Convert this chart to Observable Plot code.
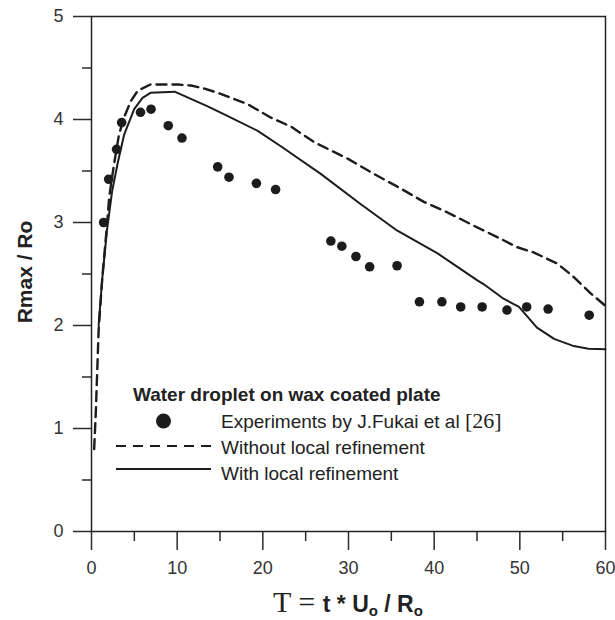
<!DOCTYPE html>
<html>
<head>
<meta charset="utf-8">
<script src="https://cdn.jsdelivr.net/npm/d3@7"></script>
<script src="https://cdn.jsdelivr.net/npm/@observablehq/plot@0.6"></script>
<style>
  html, body { margin: 0; padding: 0; background: #fff; }
  #chart { width: 615px; height: 620px; }
</style>
</head>
<body>
<div id="chart"></div>
<script>
// ---- Data ----
const expT = [1.42, 2.01, 2.93, 3.52, 5.72, 6.95, 8.96, 10.56, 14.73, 16.05, 19.25, 21.49,
              27.94, 29.22, 30.87, 32.47, 35.67, 38.28, 40.9, 43.1, 45.6, 48.5, 50.8, 53.3, 58.1];
const expR = [3.00, 3.42, 3.71, 3.97, 4.07, 4.10, 3.94, 3.82, 3.54, 3.44, 3.38, 3.32,
              2.82, 2.77, 2.67, 2.57, 2.58, 2.23, 2.23, 2.18, 2.18, 2.15, 2.18, 2.16, 2.10];

// Without local refinement (dashed)
const dashT = [0.31, 0.51, 0.83, 1.25, 1.75, 2.07, 2.6, 3.2, 3.8, 4.6, 5.4, 6.9, 10.0, 11.6, 13.2, 14.7,
               16.6, 18.2, 20.9, 23.3, 26.0, 29.9, 33.0, 36.1, 38.8, 41.5, 44.6, 47.8, 49.7, 51.6,
               54.4, 56.3, 58.3, 60];
const dashR = [0.80, 1.17, 1.95, 2.45, 2.92, 3.25, 3.55, 3.85, 4.02, 4.18, 4.28, 4.34, 4.34, 4.33, 4.30, 4.26,
               4.20, 4.15, 4.02, 3.93, 3.78, 3.62, 3.47, 3.33, 3.20, 3.10, 2.97, 2.84, 2.76, 2.71,
               2.60, 2.47, 2.31, 2.19];

// With local refinement (solid)
const solidT = [0.83, 1.25, 1.8, 2.4, 3.04, 3.8, 4.98, 5.96, 6.93, 9.7, 11.6, 13.5, 15.5, 19.4, 22.1,
                26.8, 31.4, 35.7, 40.4, 45.0, 45.8, 48.1, 49.9, 52.0, 54.0, 56.3, 58.0, 60];
const solidR = [2.00, 2.45, 2.92, 3.30, 3.57, 3.85, 4.10, 4.21, 4.26, 4.27, 4.20, 4.13, 4.05, 3.89, 3.74,
                3.47, 3.18, 2.92, 2.70, 2.44, 2.40, 2.26, 2.18, 1.98, 1.87, 1.80, 1.775, 1.77];

const xTicks = [0, 10, 20, 30, 40, 50, 60];
const xMinor = [5, 15, 25, 35, 45, 55];
const yTicks = [0, 1, 2, 3, 4, 5];
const yMinor = [0.5, 1.5, 2.5, 3.5, 4.5];

const legendTitle = "Water droplet on wax coated plate";
const legendExp = "Experiments by J.Fukai et al ";
const legendExpRef = "[26]";
const legendDash = "Without local refinement";
const legendSolid = "With local refinement";

// ---- Build tables ----
const expData = expT.map((t, i) => ({t, r: expR[i]}));
const dashData = dashT.map((t, i) => ({t, r: dashR[i]}));
const solidData = solidT.map((t, i) => ({t, r: solidR[i]}));

const ink = "#1c1c1c";
const sans = "'Liberation Sans', Arial, Helvetica, sans-serif";
const serif = "'Liberation Serif', 'Times New Roman', serif";
const intFmt = d => String(d);

const plot = Plot.plot({
  width: 615,
  height: 620,
  marginLeft: 91,
  marginRight: 10,
  marginTop: 16,
  marginBottom: 89,
  x: {domain: [0, 60], label: null},
  y: {domain: [0, 5], label: null},
  style: {fontFamily: sans, fontSize: "18px", color: "#2a2a2a", background: "#fff", overflow: "visible"},
  marks: [
    Plot.axisX({ticks: xTicks, tickSize: 19, tickPadding: 11, strokeWidth: 1.5, label: null, fill: "#333", tickFormat: intFmt}),
    Plot.axisX({ticks: xMinor, tickSize: 10, tickFormat: () => "", strokeWidth: 1.5, label: null}),
    Plot.axisY({ticks: yTicks, tickSize: 18, tickPadding: 10, strokeWidth: 1.5, label: null, fill: "#333", tickFormat: intFmt}),
    Plot.axisY({ticks: yMinor, tickSize: 9, tickFormat: () => "", strokeWidth: 1.5, label: null}),
    Plot.frame({stroke: "#222", strokeWidth: 1.5}),
    Plot.line(dashData, {x: "t", y: "r", stroke: ink, strokeWidth: 2.4, strokeDasharray: "10,6"}),
    Plot.line(solidData, {x: "t", y: "r", stroke: ink, strokeWidth: 2}),
    Plot.dot(expData, {x: "t", y: "r", r: 4.8, fill: ink, stroke: "none"})
  ]
});

document.getElementById("chart").appendChild(plot);

// ---- Axis titles and legend (text) ----
const svg = d3.select(plot);

// X axis title: T = t * Uo / Ro
const xt = svg.append("text")
  .attr("x", 348).attr("y", 612)
  .attr("text-anchor", "middle")
  .attr("fill", "#222");
xt.append("tspan").attr("font-family", serif).attr("font-size", 30).text("T = ");
xt.append("tspan").attr("font-family", sans).attr("font-weight", "bold").attr("font-size", 23).text("t * U");
xt.append("tspan").attr("font-family", sans).attr("font-weight", "bold").attr("font-size", 15).attr("dy", 4).text("o");
xt.append("tspan").attr("font-family", sans).attr("font-weight", "bold").attr("font-size", 23).attr("dy", -4).text(" / R");
xt.append("tspan").attr("font-family", sans).attr("font-weight", "bold").attr("font-size", 15).attr("dy", 4).text("o");

// Y axis title: Rmax / Ro
svg.append("text")
  .attr("transform", "translate(32,272) rotate(-90)")
  .attr("text-anchor", "middle")
  .attr("font-family", sans).attr("font-weight", "bold").attr("font-size", 21)
  .attr("fill", "#222")
  .text("Rmax / Ro");

// Legend
const lg = svg.append("g").attr("font-family", sans).attr("fill", "#222").attr("text-anchor", "start");
lg.append("text").attr("x", 133).attr("y", 401).attr("font-weight", "bold").attr("font-size", 19).text(legendTitle);
lg.append("circle").attr("cx", 163.5).attr("cy", 421).attr("r", 7.5).attr("fill", ink);
const le = lg.append("text").attr("x", 221).attr("y", 428).attr("font-size", 19);
le.append("tspan").text(legendExp);
le.append("tspan").attr("font-family", serif).attr("font-size", 22).text(legendExpRef);
lg.append("line").attr("x1", 116).attr("x2", 211).attr("y1", 446).attr("y2", 446)
  .attr("stroke", ink).attr("stroke-width", 2.2).attr("stroke-dasharray", "10,7");
lg.append("text").attr("x", 221).attr("y", 454).attr("font-size", 19).text(legendDash);
lg.append("line").attr("x1", 116).attr("x2", 211).attr("y1", 469).attr("y2", 469)
  .attr("stroke", ink).attr("stroke-width", 2);
lg.append("text").attr("x", 221).attr("y", 480).attr("font-size", 19).text(legendSolid);
</script>
</body>
</html>
